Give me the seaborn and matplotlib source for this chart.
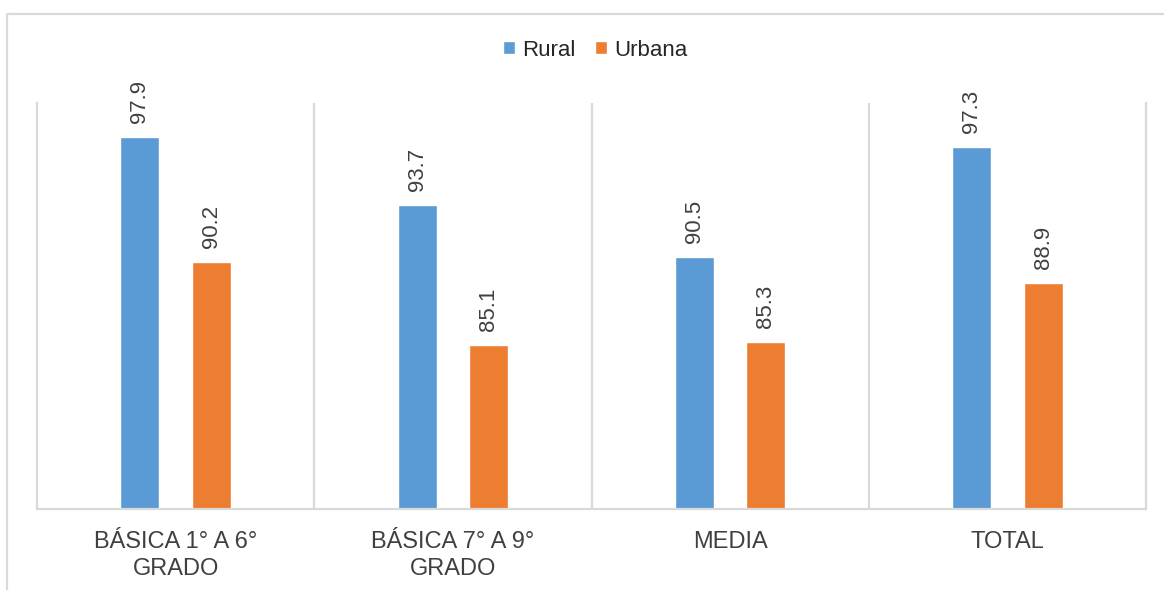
import matplotlib
matplotlib.use("Agg")
import matplotlib.pyplot as plt
from matplotlib.lines import Line2D
import seaborn as sns
import pandas as pd

categories = ["BÁSICA 1° A 6°\nGRADO", "BÁSICA 7° A 9°\nGRADO", "MEDIA", "TOTAL"]
rural = [97.9, 93.7, 90.5, 97.3]
urbana = [90.2, 85.1, 85.3, 88.9]
series = ["Rural", "Urbana"]
colors = ["#5B9BD5", "#ED7D31"]

df = pd.DataFrame({
    "cat": categories * 2,
    "zona": [series[0]] * 4 + [series[1]] * 4,
    "valor": rural + urbana,
})

sns.set_theme(style="white")
plt.rcParams["font.family"] = ["Liberation Sans", "DejaVu Sans"]

fig = plt.figure(figsize=(11.64, 5.90), dpi=100)
ax = fig.add_axes([37 / 1164, 1 - 509 / 590, (1146 - 37) / 1164, (509 - 103) / 590])

sns.barplot(data=df, x="cat", y="valor", hue="zona", palette=colors,
            width=0.516, gap=0.453, ax=ax, saturation=1, legend=True)

ax.set_ylim(75, 100)
ax.set_xlim(-0.5, len(categories) - 0.5)
ax.set_xlabel("")
ax.set_ylabel("")
ax.set_yticks([])
ax.tick_params(axis="x", length=0, pad=16)
for lab in ax.get_xticklabels():
    lab.set_fontsize(17)
    lab.set_color("#404040")
    lab.set_linespacing(1.3)

grid_c = "#D9D9D9"
for s in ["left", "right", "bottom"]:
    ax.spines[s].set_color(grid_c)
    ax.spines[s].set_linewidth(1.6)
ax.spines["top"].set_visible(False)
for xs in [0.5, 1.5, 2.5]:
    ax.axvline(xs, color=grid_c, lw=1.6, zorder=0)

for cont in ax.containers:
    ax.bar_label(cont, fmt="%.1f", rotation=90, padding=10, fontsize=16,
                 color="#404040")

leg = ax.legend(loc="center", bbox_to_anchor=(595 / 1164, 1 - 50 / 590), bbox_transform=fig.transFigure,
                ncol=2, frameon=False, fontsize=16, handlelength=0.55, handleheight=0.55,
                handletextpad=0.3, columnspacing=0.9)
for t in leg.get_texts():
    t.set_color("#262626")

xb = 7 / 1164
yt = 1 - 14 / 590
fig.add_artist(Line2D([xb, xb, 1.0], [0.0, yt, yt], transform=fig.transFigure,
                      color=grid_c, lw=1.6))

fig.savefig("out.png", dpi=100, facecolor="white")
